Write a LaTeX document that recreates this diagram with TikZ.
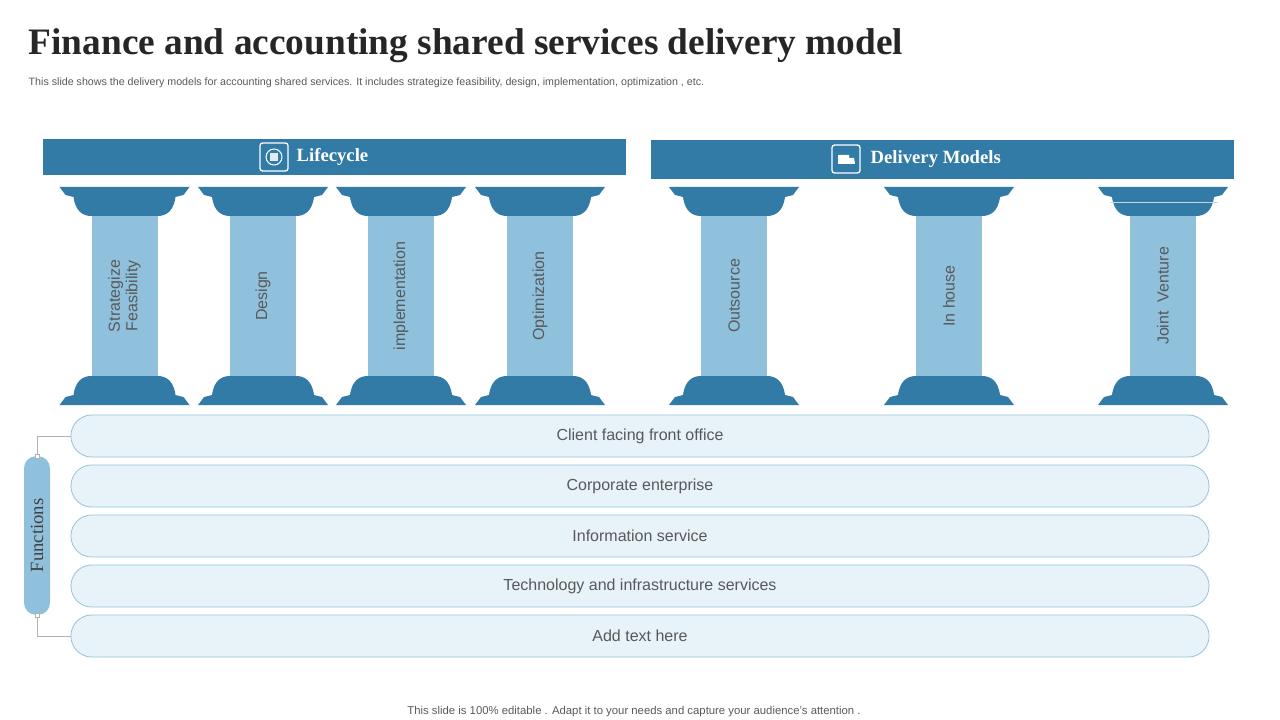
\documentclass[tikz,border=0pt]{standalone}
\usepackage{fontspec}
\setmainfont{Liberation Serif}
\setsansfont{Liberation Sans}
\usetikzlibrary{positioning}
\definecolor{darkblue}{HTML}{327BA6}
\definecolor{shaftblue}{HTML}{8FC0DC}
\definecolor{rowfill}{HTML}{E7F2F9}
\definecolor{rowline}{HTML}{95C4DB}
\definecolor{txtgray}{HTML}{595959}
\tikzset{
  header/.style={fill=darkblue, draw=none},
  headtext/.style={text=white, font=\rmfamily\bfseries\fontsize{14}{16}\selectfont},
  rowbox/.style={draw=rowline, fill=rowfill, rounded corners=15.5pt, minimum width=853.5pt, minimum height=31.5pt, font=\sffamily\fontsize{12}{14}\selectfont, text=txtgray, line width=0.6pt},
  shafttext/.style={rotate=90, font=\sffamily\fontsize{12}{13}\selectfont, text=txtgray, align=center},
  bracket/.style={draw=gray!60, line width=0.6pt},
  pics/capital/.style={code={
    \fill[darkblue] (-65,0) -- (65,0) -- (59,8) -- (51,10) .. controls (49,25) and (41,29) .. (33,29)
      -- (-33,29) .. controls (-41,29) and (-49,25) .. (-51,10) -- (-59,8) -- cycle;
  }},
  pics/pillar/.style={code={
    \fill[shaftblue] (-33,29) rectangle (33,190);
    \pic {capital};
    \pic[shift={(0,218)}, yscale=-1] {capital};
  }}
}
\begin{document}
\begin{tikzpicture}[x=0.75pt,y=-0.75pt]
\useasboundingbox (0,0) rectangle (1280,720);
% title
\node[anchor=west, font=\rmfamily\bfseries\fontsize{28}{32}\selectfont, text=black!85] (title) at (24,46) {Finance and accounting shared services delivery model};
\node[anchor=west, font=\sffamily\fontsize{8}{10}\selectfont, text=txtgray] (subtitle) at (24,83) {This slide shows the delivery models for accounting shared services. It includes strategize feasibility, design, implementation, optimization , etc.};
% headers
\fill[header] (43,139) rectangle (626,175);
\fill[header] (651,140) rectangle (1234,179);
\draw[white, line width=1pt, rounded corners=2pt] (260,143) rectangle (288,171);
\draw[white, line width=0.8pt] (274,157) circle (8);
\fill[white!85!darkblue] (270,153) rectangle (278,161);
\node[headtext, anchor=west] (lifecycle) at (292,157) {Lifecycle};
\draw[white, line width=1pt, rounded corners=2pt] (832,145) rectangle (860,173);
\fill[white] (838,155) rectangle (849,164) (849,158) -- (854,158) -- (855,164) -- (849,164) -- cycle;
\node[headtext, anchor=west] (delivery) at (866,159) {Delivery Models};
% pillars
\foreach \cx/\lbl/\nm in {124.5/{Strategize\\Feasibility}/p1, 263/Design/p2, 401/implementation/p3, 540/Optimization/p4, 734/Outsource/p5, 949/In house/p6, 1163/Joint\ \ Venture/p7}{
  \pic at (\cx,187) {pillar};
  \node[shafttext] (\nm) at (\cx,296) {\lbl};
}
\draw[white!70!darkblue, line width=0.6pt] (1110,202) -- (1218,202);
% function rows
\foreach \y/\txt/\nm in {436/Client facing front office/r1, 486/Corporate enterprise/r2, 536/Information  service/r3, 586/Technology  and infrastructure  services/r4, 636/Add text here/r5}{
  \node[rowbox] (\nm) at (640,\y) {\txt};
}
% functions label
\node[fill=shaftblue, rounded corners=9pt, minimum width=119pt, minimum height=19.5pt, rotate=90, font=\rmfamily\fontsize{14}{16}\selectfont, text=black!75] (functions) at (37,535.5) {Functions};
\draw[bracket] (functions.east) |- (r1.west);
\draw[bracket] (functions.west) |- (r5.west);
\fill[white, draw=gray!60, line width=0.4pt] (35,454) rectangle (39,458) (35,613) rectangle (39,617);
% footer
\node[font=\sffamily\fontsize{8.5}{10}\selectfont, text=txtgray] (footer) at (634,712) {This slide is 100\% editable . Adapt it to your needs and capture your audience's attention .};
\end{tikzpicture}
\end{document}
